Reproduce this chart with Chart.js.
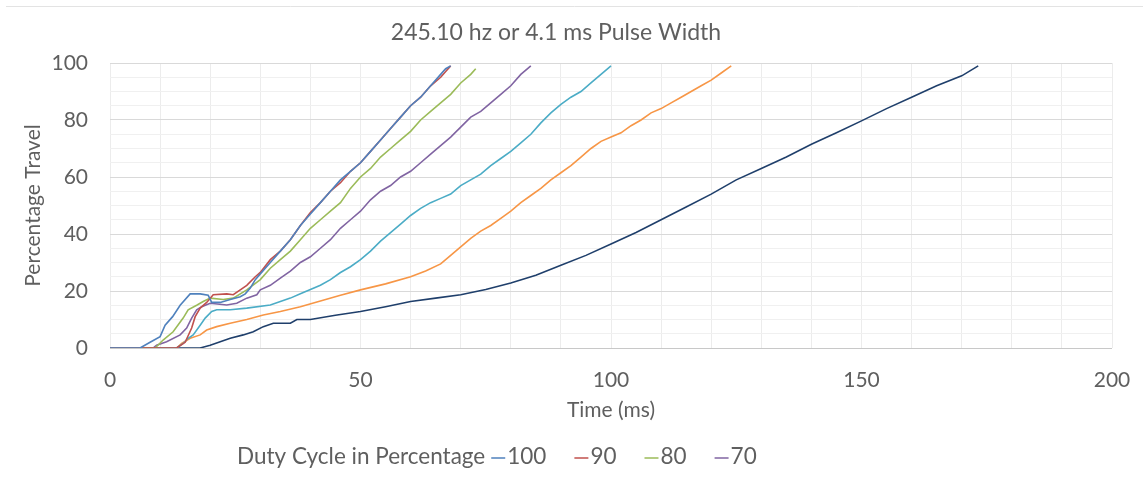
<!DOCTYPE html>
<html>
<head>
<meta charset="utf-8">
<script src="https://cdn.jsdelivr.net/npm/chart.js@4.4.1/dist/chart.umd.min.js"></script>
<style>
  html, body { margin: 0; padding: 0; background: #ffffff; }
  #wrap { width: 1143px; height: 477px; position: relative; }
</style>
</head>
<body>
<div id="wrap"><canvas id="c" width="1143" height="477"></canvas></div>
<script>
// ---- Data ----
const chartTitle = "245.10 hz or 4.1 ms Pulse Width";
const xTitle = "Time (ms)";
const yTitle = "Percentage Travel";
const legendTitle = "Duty Cycle in Percentage";
const seriesLabels = ["100", "90", "80", "70", "60", "50", "40"];
const seriesColors = ["#4f81bd", "#c0504d", "#9bbb59", "#8064a2", "#4bacc6", "#f79646", "#1f3f6b"];
const legendCount = 4;

const t100 = [0, 6, 8, 10, 11, 12.5, 14, 16, 18, 19.6, 20.3, 22, 24, 26, 27, 28, 29, 30, 32, 34, 36, 38, 40, 42, 44, 46, 48, 50, 52, 54, 56, 58, 60, 62, 64, 66, 67, 68];
const v100 = [0, 0, 2, 4, 8, 11, 15, 19, 19, 18.5, 16, 16, 17, 18, 19, 21, 24, 26, 30, 34, 38, 43, 47, 51, 55, 59, 62, 65, 69, 73, 77, 81, 85, 88, 92, 96, 98, 99];

const t90 = [0, 13.3, 15, 16.3, 17, 18, 19.3, 20.6, 23.3, 24.6, 26, 27.3, 29, 30, 32, 34, 36, 38, 40, 42, 44, 46, 48, 50, 52, 54, 56, 58, 60, 62, 64, 66, 67, 68];
const v90 = [0, 0, 2, 7, 11, 14, 16, 18.7, 19, 18.7, 20.4, 22, 25, 26.5, 31, 34, 38, 43, 47.5, 51, 55, 58, 62, 65, 69, 73, 77, 81, 85, 88, 92, 95, 97, 99];

const t80 = [0, 9, 10.6, 12.6, 14.6, 15.6, 17.3, 18.6, 20, 22.6, 24.6, 27.3, 30, 32, 34, 36, 38, 40, 42, 44, 46, 48, 50, 52, 54, 56, 58, 60, 62, 64, 66, 68, 70, 72, 73];
const v80 = [0, 0, 2.8, 5.7, 10.5, 13.4, 15, 16.3, 17.5, 17, 17.5, 20.4, 24, 28, 31, 34, 38, 42, 45, 48, 51, 56, 60, 63, 67, 70, 73, 76, 80, 83, 86, 89, 93, 96, 98];

const t70 = [0, 8.6, 9.3, 11.3, 14, 15.3, 16.3, 17.3, 18.3, 20, 23.3, 25.3, 27.3, 29.3, 30, 32, 34, 36, 38, 40, 42, 44, 46, 48, 50, 52, 54, 56, 58, 60, 62, 64, 66, 68, 70, 72, 74, 76, 78, 80, 82, 84];
const v70 = [0, 0, 1, 2.2, 4.6, 7, 10.5, 13.4, 14.5, 15.7, 15.1, 15.7, 17.5, 18.7, 20.4, 22, 24.5, 27, 30, 32, 35, 38, 42, 45, 48, 52, 55, 57, 60, 62, 65, 68, 71, 74, 77.5, 81, 83, 86, 89, 92, 96, 99];

const t60 = [0, 13.3, 14.6, 15.6, 16.6, 18, 19, 20.3, 21.3, 24, 27.3, 32, 36, 38, 40, 42, 44, 46, 48, 50, 52, 54, 56, 58, 60, 62, 64, 66, 68, 70, 72, 74, 76, 78, 80, 82, 84, 86, 88, 90, 92, 94, 96, 98, 100];
const v60 = [0, 0, 1.6, 3.4, 4.6, 8, 10.5, 12.8, 13.4, 13.4, 14, 15.1, 17.5, 19, 20.5, 22, 24, 26.5, 28.5, 31, 34, 37.5, 40.5, 43.5, 46.5, 49, 51, 52.5, 54, 57, 59, 61, 64, 66.5, 69, 72, 75, 79, 82.5, 85.5, 88, 90, 93, 96, 99];

const t50 = [0, 13.3, 14.3, 16, 18, 19.3, 21.3, 24, 27.3, 30.6, 34, 38, 42, 46, 50, 55, 60, 63, 66, 68, 70, 72, 74, 76, 78, 80, 82, 84, 86, 88, 90, 92, 94, 96, 98, 100, 102, 104, 106, 108, 110, 112, 114, 116, 118, 120, 122, 124];
const v50 = [0, 0, 1.6, 3.4, 4.6, 6.3, 7.5, 8.7, 10, 11.6, 12.8, 14.5, 16.5, 18.5, 20.4, 22.5, 25, 27, 29.5, 32.5, 35.5, 38.5, 41, 43, 45.5, 48, 51, 53.5, 56, 59, 61.5, 64, 67, 70, 72.5, 74, 75.5, 78, 80, 82.5, 84, 86, 88, 90, 92, 94, 96.5, 99];

const t40 = [0, 18, 20, 22, 24, 26.6, 28.6, 30.6, 32.6, 36, 37.3, 40, 45, 50, 55, 60, 65, 70, 75, 80, 85, 90, 95, 100, 105, 110, 115, 120, 125, 130, 135, 140, 145, 150, 155, 160, 165, 170, 173.3];
const v40 = [0, 0, 1, 2.2, 3.4, 4.6, 5.7, 7.5, 8.7, 8.7, 10, 10, 11.5, 12.8, 14.5, 16.3, 17.5, 18.7, 20.5, 22.8, 25.5, 29, 32.5, 36.5, 40.5, 45, 49.5, 54, 59, 63, 67, 71.5, 75.5, 79.7, 84, 88, 92, 95.5, 99];

const xTicksLabeled = [0, 50, 100, 150, 200];
const yTicksLabeled = [0, 20, 40, 60, 80, 100];

// ---- Build datasets ----
const seriesT = [t100, t90, t80, t70, t60, t50, t40];
const seriesV = [v100, v90, v80, v70, v60, v50, v40];
const datasets = seriesLabels.map((lab, i) => ({
  label: lab,
  data: seriesT[i].map((t, k) => ({ x: t, y: seriesV[i][k] })),
  borderColor: seriesColors[i],
  backgroundColor: seriesColors[i],
  borderWidth: 1.6,
  pointRadius: 0,
  tension: 0,
  fill: false
}));

const FONT = "Lato, 'Open Sans', sans-serif";
const TXT = "#5f5f5f";

// custom inline legend drawn on the canvas
const inlineLegend = {
  id: 'inlineLegend',
  afterDraw(chart) {
    const ctx = chart.ctx;
    ctx.save();
    ctx.font = "22.5px " + FONT;
    ctx.textBaseline = 'middle';
    ctx.fillStyle = TXT;
    const y = 457;
    let x = 237;
    ctx.fillText(legendTitle, x, y);
    x += ctx.measureText(legendTitle).width + 6;
    for (let i = 0; i < legendCount; i++) {
      const ds = chart.data.datasets[i];
      ctx.strokeStyle = ds.borderColor;
      ctx.lineWidth = 1.5;
      ctx.beginPath();
      ctx.moveTo(x, y + 1);
      ctx.lineTo(x + 14, y + 1);
      ctx.stroke();
      x += 16;
      ctx.fillStyle = TXT;
      ctx.fillText(ds.label, x, y);
      x += ctx.measureText(ds.label).width + 28;
    }
    // frame line of the original screenshot
    ctx.strokeStyle = '#e3e3e3';
    ctx.lineWidth = 1;
    ctx.beginPath();
    ctx.moveTo(6, 6.5); ctx.lineTo(1143, 6.5);
    ctx.stroke();
    ctx.restore();
  }
};

new Chart(document.getElementById('c'), {
  type: 'line',
  data: { datasets },
  plugins: [inlineLegend],
  options: {
    responsive: false,
    animation: false,
    layout: { padding: { left: 0, right: 31, top: 0, bottom: 54 } },
    plugins: {
      legend: { display: false },
      tooltip: { enabled: false },
      title: {
        display: true,
        text: chartTitle,
        color: TXT,
        font: { family: FONT, size: 23, weight: 'normal' },
        padding: { top: 19.2, bottom: 16.2 }
      }
    },
    scales: {
      x: {
        type: 'linear',
        min: 0, max: 200,
        afterFit(s) { s.height = 75; s.paddingRight = 0; s.paddingLeft = 0; },
        border: { display: false },
        grid: {
          drawTicks: false,
          color: '#ececec',
          lineWidth: 1
        },
        ticks: {
          stepSize: 10,
          autoSkip: false,
          maxRotation: 0,
          padding: 20,
          color: TXT,
          font: { family: FONT, size: 21 },
          callback: (v) => xTicksLabeled.includes(v) ? String(v) : ''
        },
        title: {
          display: true,
          text: xTitle,
          color: TXT,
          font: { family: FONT, size: 21 },
          padding: { top: 0, bottom: 0 }
        }
      },
      y: {
        min: 0, max: 100,
        afterFit(s) { s.width = 110; },
        border: { display: false },
        grid: {
          drawTicks: false,
          color: (c) => {
            const v = c.tick.value;
            if (v === 0) return '#c8c8c8';
            return v % 20 === 0 ? '#d9d9d9' : '#f0f0f0';
          },
          lineWidth: 1
        },
        ticks: {
          stepSize: 5,
          autoSkip: false,
          padding: 22,
          color: TXT,
          font: { family: FONT, size: 21 },
          callback: (v) => yTicksLabeled.includes(v) ? String(v) : ''
        },
        title: {
          display: true,
          text: yTitle,
          color: TXT,
          font: { family: FONT, size: 21 },
          padding: { top: 20.4, bottom: 0 }
        }
      }
    }
  }
});
</script>
</body>
</html>
